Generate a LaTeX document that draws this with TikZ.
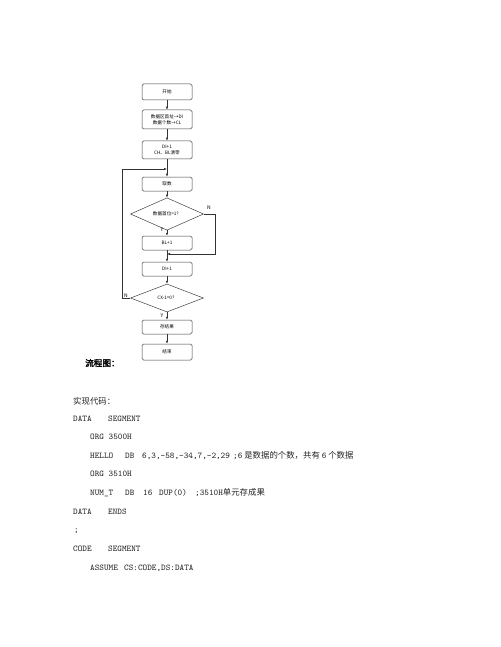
\documentclass[tikz,border=0pt]{standalone}
\usepackage{fontspec}
\newfontfamily\cjk{Noto Sans CJK SC}
\newfontfamily\cjkb[FakeBold=2]{Noto Sans CJK SC}
\usetikzlibrary{arrows.meta,shapes.geometric}
\newcommand{\cdf}{\ttfamily\fontsize{8.8}{10}\selectfont}
\begin{document}
\begin{tikzpicture}[x=1pt,y=-1pt,
  box/.style={draw=black!75, line width=0.5pt, rounded corners=1.5pt, minimum width=50pt, inner sep=0pt, align=center, font=\cjk\fontsize{4.6}{5.8}\selectfont},
  dia/.style={draw=black!75, line width=0.5pt, diamond, minimum width=73pt, inner sep=0pt, align=center, font=\cjk\fontsize{4.6}{5.8}\selectfont},
  arr/.style={draw=black!80, line width=0.5pt, -{Latex[length=3pt,width=2.4pt]}},
  lbl/.style={inner sep=0pt, font=\cjk\fontsize{5}{6}\selectfont},
  code/.style={anchor=west, inner sep=0pt, text=black!85, font=\cdf},
  zh/.style={anchor=west, inner sep=0pt, text=black!85, font=\cjk\fontsize{8.4}{10}\selectfont}]
\fill[white] (0,0) rectangle (500,647);
\useasboundingbox (0,0) rectangle (500,647);
% flowchart
\node[box, minimum height=16pt] (start) at (167,92) {开始};
\node[box, minimum height=19pt] (b2) at (167,119.5) {数据区首址→DI\\数据个数→CL};
\node[box, minimum height=18pt] (b3) at (167,150) {DI+1\\CH、BL清零};
\node[box, minimum height=14pt] (qs) at (167,184) {取数};
\node[dia, minimum height=26pt] (d1) at (167,214) {数据首位=1？};
\node[box, minimum height=14pt] (bl) at (167,243) {BL+1};
\node[box, minimum height=14pt] (di) at (167,269) {DI+1};
\node[dia, minimum height=28pt] (d2) at (167,298) {CX-1=0？};
\node[box, minimum height=14pt] (cr) at (167,327) {存结果};
\node[box, minimum height=16pt] (end) at (167,352) {结束};
\coordinate (j1) at (167,254);
\coordinate (nr) at (215,254);
\coordinate (j2) at (167,169);
\coordinate (lt) at (122,169);
\draw[arr] (start) -- (b2);
\draw[arr] (b2) -- (b3);
\draw[arr] (b3) -- (qs);
\draw[arr] (qs) -- (d1);
\draw[arr] (d1) -- (bl);
\draw[arr] (bl) -- (di);
\draw[arr] (di) -- (d2);
\draw[arr] (d2) -- (cr);
\draw[arr] (cr) -- (end);
\draw[arr] (d1.east) -| (nr) -- (j1);
\draw[arr] (d2.west) -| (lt) -- (j2);
\node[lbl] (n1) at (209,208) {N};
\node[lbl] (y1) at (162,230) {Y};
\node[lbl] (n2) at (126,296) {N};
\node[lbl] (y2) at (162,315.5) {Y};
% text
\node[anchor=west, inner sep=0pt, font=\cjkb\fontsize{8.6}{10}\selectfont] (lc) at (85,363) {流程图：};
\node[zh] (t0) at (73,401) {实现代码：};
\node[code] (t1a) at (73,419) {DATA};
\node[code] (t1b) at (108,419) {SEGMENT};
\node[code] (t2) at (90,437) {ORG 3500H};
\node[code] (t3a) at (90,456) {HELLO};
\node[code] (t3b) at (125,456) {DB};
\node[code] (t3c) at (142,456) {6,3,-58,-34,7,-2,29};
\node[zh] (t3d) at (233,456) {{\cdf;6} 是数据的个数，共有 {\cdf 6} 个数据};
\node[code] (t4) at (90,474) {ORG 3510H};
\node[code] (t5a) at (90,493) {NUM\_T};
\node[code] (t5b) at (125,493) {DB};
\node[code] (t5c) at (143,493) {16};
\node[code] (t5d) at (159,493) {DUP(0)};
\node[zh] (t5e) at (195,493) {{\cdf;3510H}单元存成果};
\node[code] (t6a) at (73,512) {DATA};
\node[code] (t6b) at (108,512) {ENDS};
\node[code] (t7) at (74,531) {;};
\node[code] (t8a) at (73,549) {CODE};
\node[code] (t8b) at (108,549) {SEGMENT};
\node[code] (t9a) at (90,568) {ASSUME};
\node[code] (t9b) at (124,568) {CS:CODE,DS:DATA};
\end{tikzpicture}
\end{document}
